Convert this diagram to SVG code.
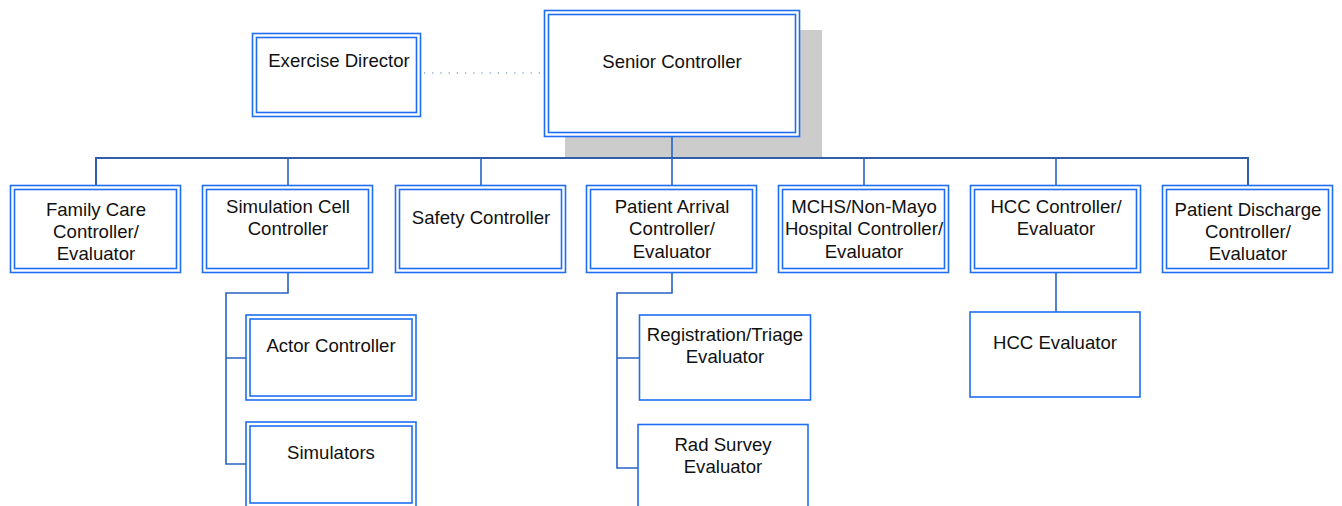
<svg xmlns="http://www.w3.org/2000/svg" width="1342" height="506" viewBox="0 0 1342 506">
<style>
.o{fill:#fff;stroke:#1f6ef2;stroke-width:1.6}
.i{fill:none;stroke:#1f6ef2;stroke-width:1.6}
.t{font-family:"Liberation Sans",Arial,sans-serif;font-size:18.6px;fill:#111;text-anchor:middle}
.c{fill:none;stroke:#2763c4;stroke-width:1.6}
.bus{fill:none;stroke:#2f5fab;stroke-width:2}
</style>
<rect x="565" y="30" width="257" height="128" fill="#cccccc"/>
<g id="connectors">
<path class="bus" d="M96 185V158H1248V185"/>
<path class="c" d="M672 137V158M288 158V185M481 158V185M672 158V185M864 158V185M1056 158V185"/>
<path class="c" d="M288 273V293H226V464H246M226 358H246"/>
<path class="c" d="M672 273V293H617V468H638M617 358H639"/>
<path class="c" d="M1056 273V312"/>
<path d="M424 73H540" fill="none" stroke="#5577aa" stroke-width="1.2" stroke-dasharray="1.2 7"/>
</g>
<g id="exercise-director">
<rect class="o" x="252.5" y="33.5" width="168" height="83"/>
<rect class="i" x="256.5" y="37.5" width="160" height="75"/>
<text class="t" x="339" y="67">Exercise Director</text>
</g>
<g id="senior-controller">
<rect class="o" x="544.5" y="10.5" width="255" height="126"/>
<rect class="i" x="548.5" y="14.5" width="247" height="118"/>
<text class="t" x="672" y="68">Senior Controller</text>
</g>
<g id="family-care">
<rect class="o" x="10.5" y="185.5" width="170" height="87"/>
<rect class="i" x="14.5" y="189.5" width="162" height="79"/>
<text class="t" x="96" y="216">Family Care</text>
<text class="t" x="96" y="238">Controller/</text>
<text class="t" x="96" y="260">Evaluator</text>
</g>
<g id="simulation-cell">
<rect class="o" x="202.5" y="185.5" width="170" height="87"/>
<rect class="i" x="206.5" y="189.5" width="162" height="79"/>
<text class="t" x="288" y="213">Simulation Cell</text>
<text class="t" x="288" y="235">Controller</text>
</g>
<g id="safety-controller">
<rect class="o" x="395.5" y="185.5" width="170" height="87"/>
<rect class="i" x="399.5" y="189.5" width="162" height="79"/>
<text class="t" x="481" y="224">Safety Controller</text>
</g>
<g id="patient-arrival">
<rect class="o" x="586.5" y="185.5" width="170" height="87"/>
<rect class="i" x="590.5" y="189.5" width="162" height="79"/>
<text class="t" x="672" y="213">Patient Arrival</text>
<text class="t" x="672" y="235">Controller/</text>
<text class="t" x="672" y="258">Evaluator</text>
</g>
<g id="mchs">
<rect class="o" x="778.5" y="185.5" width="170" height="87"/>
<rect class="i" x="782.5" y="189.5" width="162" height="79"/>
<text class="t" x="864" y="213">MCHS/Non-Mayo</text>
<text class="t" x="864" y="235">Hospital Controller/</text>
<text class="t" x="864" y="258">Evaluator</text>
</g>
<g id="hcc-controller">
<rect class="o" x="970.5" y="185.5" width="170" height="87"/>
<rect class="i" x="974.5" y="189.5" width="162" height="79"/>
<text class="t" x="1056" y="213">HCC Controller/</text>
<text class="t" x="1056" y="235">Evaluator</text>
</g>
<g id="patient-discharge">
<rect class="o" x="1162.5" y="185.5" width="170" height="87"/>
<rect class="i" x="1166.5" y="189.5" width="162" height="79"/>
<text class="t" x="1248" y="216">Patient Discharge</text>
<text class="t" x="1248" y="238">Controller/</text>
<text class="t" x="1248" y="260">Evaluator</text>
</g>
<g id="actor-controller">
<rect class="o" x="246" y="315" width="170" height="85"/>
<rect class="i" x="250" y="319" width="162" height="77"/>
<text class="t" x="331" y="352">Actor Controller</text>
</g>
<g id="simulators">
<rect class="o" x="246" y="422" width="170" height="85"/>
<rect class="i" x="250" y="426" width="162" height="77"/>
<text class="t" x="331" y="459">Simulators</text>
</g>
<g id="registration-triage">
<rect class="o" x="639.5" y="315" width="171" height="85"/>
<text class="t" x="725" y="341">Registration/Triage</text>
<text class="t" x="725" y="363">Evaluator</text>
</g>
<g id="rad-survey">
<rect class="o" x="638" y="424.5" width="170" height="90"/>
<text class="t" x="723" y="451">Rad Survey</text>
<text class="t" x="723" y="473">Evaluator</text>
</g>
<g id="hcc-evaluator">
<rect class="o" x="970" y="312" width="170" height="85"/>
<text class="t" x="1055" y="349">HCC Evaluator</text>
</g>
</svg>
